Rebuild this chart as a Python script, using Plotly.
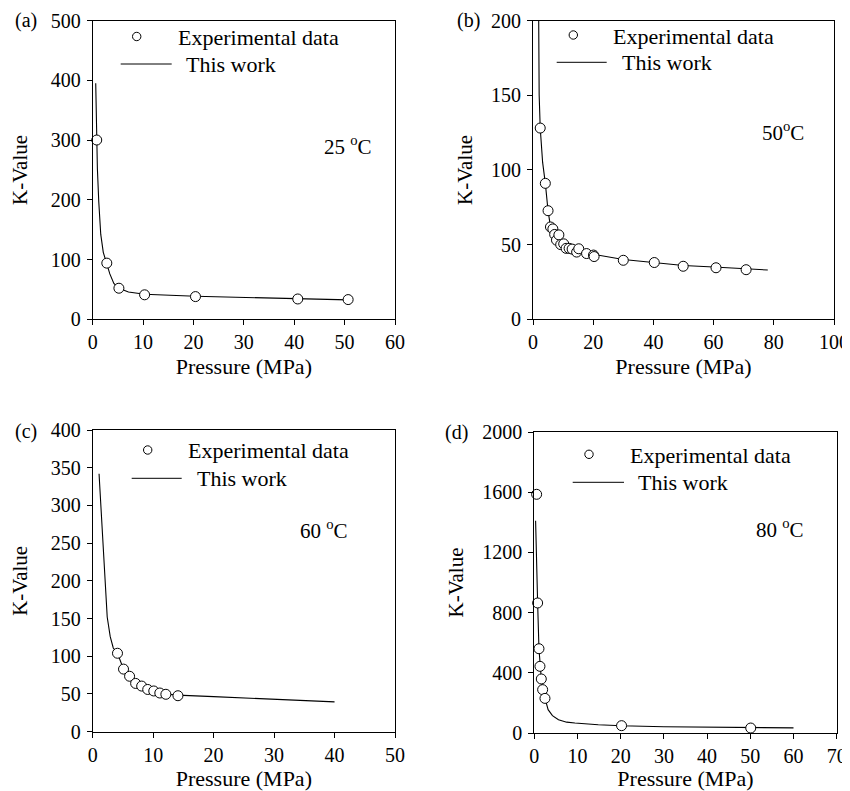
import plotly.graph_objects as go

# the page body has an 8 px margin, so the figure is sized to fill the rest of the window
OFF = 8
W, H = 850 - OFF, 791 - OFF
FONT = "Liberation Serif"

# ---------------- data ----------------
# (a) 25 °C
a_exp_x = [0.8, 2.8, 5.2, 10.3, 20.4, 40.7, 50.7]
a_exp_y = [300, 94, 52, 41, 38, 34, 33]
a_fit_x = [0.6, 0.8, 0.93, 1.2, 1.6, 2.1, 2.8, 3.4, 4.2, 5.2, 7.1, 10.3, 20.4, 40.7, 50.7]
a_fit_y = [395, 300, 252, 197, 142, 112, 94, 76, 60, 52, 45.6, 42, 38.5, 34, 32.5]

# (b) 50 °C
b_exp_x = [2.4, 4.1, 5.0, 5.8, 6.6, 7.2, 7.8, 8.6, 9.2, 10.2, 11.0, 12.0, 13.0, 14.5, 15.2,
           17.8, 20.1, 20.3, 30.0, 40.3, 49.9, 60.8, 70.8]
b_exp_y = [128, 91, 72.7, 61.8, 60.5, 56.8, 53, 56.5, 50, 50.5, 47.5, 47.5, 47, 45, 47.2,
           44, 43, 42, 39.5, 38, 35.5, 34.5, 33.2]
b_fit_x = [1.7, 1.85, 2.05, 2.4, 3.2, 4.1, 5.0, 5.8, 7, 8, 10, 12, 15, 20, 30, 40, 50, 60, 70, 78]
b_fit_y = [260, 200, 150, 128, 105, 91, 72.7, 62, 56, 52.5, 49, 47, 45.5, 43.5, 40, 38, 36, 35, 33.8, 33]

# (c) 60 °C
c_exp_x = [4.1, 5.1, 6.1, 7.1, 8.1, 9.1, 10.1, 11.1, 12.1, 14.1]
c_exp_y = [104, 83, 73.5, 64, 60.5, 56, 54, 51.3, 49.6, 47.7]
c_fit_x = [1.05, 2.1, 2.4, 2.9, 3.4, 4.1, 5.1, 6.1, 7.1, 8.1, 10, 12, 14, 20, 30, 40]
c_fit_y = [342, 180, 152, 126, 111, 104, 83, 73, 65, 60, 54, 50, 48.5, 46.5, 42.5, 39.5]

# (d) 80 °C
d_exp_x = [0.54, 0.77, 1.08, 1.31, 1.62, 1.93, 2.47, 20.2, 50.1]
d_exp_y = [1586, 864, 560, 443, 359, 288, 230, 48.7, 33]
d_fit_x = [0.3, 0.45, 0.6, 0.77, 1.08, 1.31, 1.62, 1.93, 2.47, 3.2, 4.2, 5.6, 7.5, 9.4, 14.8,
           20.2, 30, 40, 50, 60]
d_fit_y = [1410, 1150, 960, 864, 560, 443, 359, 288, 230, 155, 115, 88, 72, 66, 55,
           48, 42, 38, 35, 34]

panel_labels = ["(a)", "(b)", "(c)", "(d)"]
temp_labels = ["25 <sup>o</sup>C", "50<sup>o</sup>C", "60 <sup>o</sup>C", "80 <sup>o</sup>C"]
legend_texts = ["Experimental data", "This work"]
x_title = "Pressure (MPa)"
y_title = "K-Value"

x_ranges = [[0, 60], [0, 100], [0, 50], [0, 70]]
x_dticks = [10, 20, 10, 10]
y_ranges = [[0, 500], [0, 200], [0, 400], [0, 2000]]
y_dticks = [100, 50, 50, 400]

# ---------------- layout geometry (window pixels) ----------------
plot_boxes = [  # x0, x1, y_top, y_bottom
    (92.7, 395.0, 20.5, 319.3),
    (533.0, 834.0, 20.5, 319.3),
    (92.7, 395.0, 430.0, 731.7),
    (534.3, 836.7, 432.0, 733.0),
]
y_title_standoff = [24, 12, 22, 12]

def px(x):
    return (x - OFF) / W

def py(y):
    return 1 - (y - OFF) / H

fig = go.Figure()

series = [
    (a_exp_x, a_exp_y, a_fit_x, a_fit_y),
    (b_exp_x, b_exp_y, b_fit_x, b_fit_y),
    (c_exp_x, c_exp_y, c_fit_x, c_fit_y),
    (d_exp_x, d_exp_y, d_fit_x, d_fit_y),
]

for i, (ex, ey, fx, fy) in enumerate(series):
    n = "" if i == 0 else str(i + 1)
    fig.add_trace(go.Scatter(x=fx, y=fy, mode="lines", xaxis="x" + n, yaxis="y" + n,
                             line=dict(color="black", width=1.1), name=legend_texts[1],
                             showlegend=False))
    fig.add_trace(go.Scatter(x=ex, y=ey, mode="markers", xaxis="x" + n, yaxis="y" + n,
                             marker=dict(symbol="circle", size=10, color="white",
                                         line=dict(color="black", width=1)),
                             name=legend_texts[0], showlegend=False, cliponaxis=False))

axis_common = dict(showline=True, linecolor="black", linewidth=1, mirror=True,
                   ticks="outside", ticklen=5, tickwidth=1, tickcolor="black",
                   showgrid=False, zeroline=False, automargin=False,
                   ticklabeloverflow="allow",
                   tickfont=dict(family=FONT, size=20, color="black"))

layout = dict(width=W, height=H, margin=dict(l=0, r=0, t=0, b=0, pad=0, autoexpand=False),
              paper_bgcolor="white", plot_bgcolor="white", showlegend=False,
              font=dict(family=FONT, color="black"))

for i, (x0, x1, yt, yb) in enumerate(plot_boxes):
    n = "" if i == 0 else str(i + 1)
    layout["xaxis" + n] = dict(axis_common, domain=[px(x0), px(x1)], range=x_ranges[i],
                               dtick=x_dticks[i], tick0=0, anchor="y" + n,
                               title=dict(text=x_title, font=dict(family=FONT, size=22, color="black"),
                                          standoff=6))
    layout["yaxis" + n] = dict(axis_common, domain=[py(yb), py(yt)], range=y_ranges[i],
                               dtick=y_dticks[i], tick0=0, anchor="x" + n,
                               ticklabelstandoff=2,
                               title=dict(text=y_title, font=dict(family=FONT, size=21, color="black"),
                                          standoff=y_title_standoff[i]))

fig.update_layout(**layout)

# legends, temperature labels and panel labels
legend_geo = [  # circle cx, cy, text1 x, line x0, x1, y, text2 x
    (136.7, 36.5, 175.7, 120.7, 171.7, 64.0, 184.3),
    (573.3, 35.0, 610.7, 556.7, 606.7, 62.3, 620.0),
    (147.7, 450.0, 185.7, 131.7, 181.7, 478.3, 195.0),
    (589.0, 454.3, 627.7, 572.7, 624.0, 482.3, 635.7),
]
temp_pos = [(321.7, 146.0), (760.0, 131.0), (298.0, 529.0), (754.3, 528.0)]
label_pos = [(13.3, 21.0), (455.0, 21.0), (13.3, 431.0), (443.3, 432.0)]

shapes = []
annotations = []
r = 4.2
for i, (cx, cy, t1x, lx0, lx1, ly, t2x) in enumerate(legend_geo):
    shapes.append(dict(type="circle", xref="paper", yref="paper",
                       x0=px(cx - r), x1=px(cx + r), y0=py(cy + r), y1=py(cy - r),
                       line=dict(color="black", width=1), fillcolor="white"))
    shapes.append(dict(type="line", xref="paper", yref="paper",
                       x0=px(lx0), x1=px(lx1), y0=py(ly), y1=py(ly),
                       line=dict(color="black", width=1)))
    annotations.append(dict(text=legend_texts[0], xref="paper", yref="paper",
                            x=px(t1x), y=py(cy + 1), xanchor="left", yanchor="middle",
                            showarrow=False, font=dict(family=FONT, size=22, color="black")))
    annotations.append(dict(text=legend_texts[1], xref="paper", yref="paper",
                            x=px(t2x), y=py(ly), xanchor="left", yanchor="middle",
                            showarrow=False, font=dict(family=FONT, size=22, color="black")))
    tx, ty = temp_pos[i]
    annotations.append(dict(text=temp_labels[i], xref="paper", yref="paper",
                            x=px(tx), y=py(ty), xanchor="left", yanchor="middle",
                            showarrow=False, font=dict(family=FONT, size=21, color="black")))
    lx, lyy = label_pos[i]
    annotations.append(dict(text=panel_labels[i], xref="paper", yref="paper",
                            x=px(lx), y=py(lyy), xanchor="left", yanchor="middle",
                            showarrow=False, font=dict(family=FONT, size=20, color="black")))

fig.update_layout(shapes=shapes, annotations=annotations)

fig.write_html("out.html")
